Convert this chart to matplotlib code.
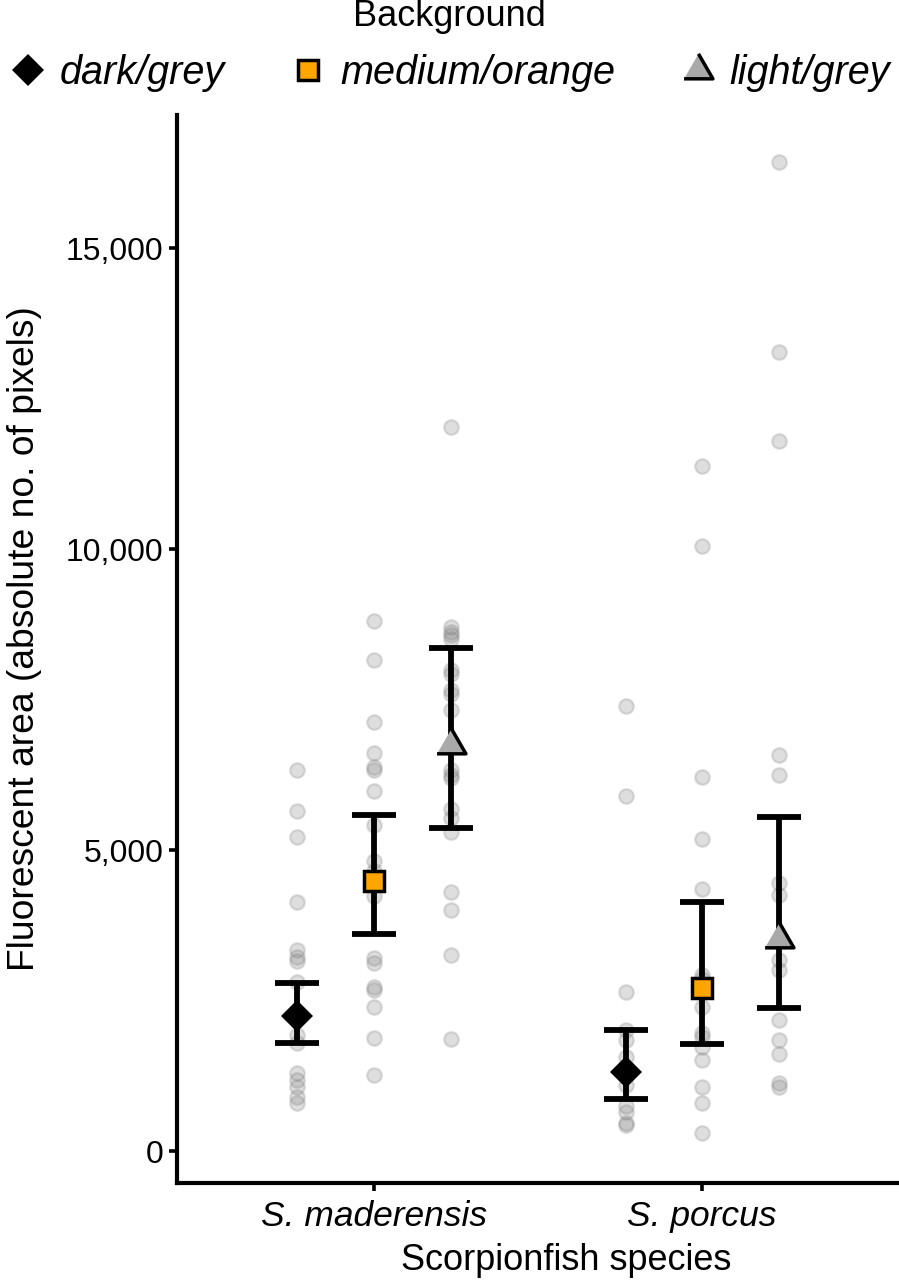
"""Fluorescent area of scorpionfish on three backgrounds."""
import matplotlib
matplotlib.use('Agg')
import numpy as np
import matplotlib.pyplot as plt
from matplotlib.lines import Line2D
from matplotlib.ticker import FuncFormatter

plt.rcParams['font.family'] = ['Liberation Sans', 'DejaVu Sans']

species = ['S. maderensis', 'S. porcus']
backgrounds = ['dark/grey', 'medium/orange', 'light/grey']

# Individual fish (absolute no. of pixels)
mad_dark = [6330, 5650, 5210, 4140, 3340, 3220, 3150, 2810, 1930, 1790,
            1290, 1180, 1070, 900, 790]
mad_medium = [8800, 8150, 7130, 6620, 6380, 6330, 5980, 5410, 4810, 4650,
              4230, 3200, 3120, 2730, 2670, 2400, 1870, 1260]
mad_light = [12030, 8700, 8630, 8570, 8510, 7990, 7930, 7660, 7600, 7330,
             6330, 6250, 6190, 5690, 5530, 5300, 4310, 4000, 3260, 1860]
por_dark = [7400, 5900, 2650, 2010, 1840, 1570, 1100, 740, 650, 460, 440]
por_medium = [11380, 10050, 6210, 5180, 4360, 2920, 2850, 2400, 1960, 1900,
              1730, 1510, 1070, 800, 300]
por_light = [16430, 13270, 11790, 6580, 6250, 4450, 4250, 3170, 3010, 2180,
             1840, 1620, 1130, 1070]

raw = [[mad_dark, mad_medium, mad_light],
       [por_dark, por_medium, por_light]]

# Group means with lower / upper error limits
means = [[2243, 4490, 6744], [1318, 2703, 3522]]
lower = [[1789, 3599, 5372], [864, 1772, 2383]]
upper = [[2799, 5581, 8350], [2010, 4131, 5543]]

# marker styles per background
tri = [(-1, -0.577), (1, -0.577), (0, 1.155)]
styles = [dict(marker='D', ms=16.5, mfc='black', mec='black', mew=0),
          dict(marker='s', ms=14.5, mfc='#FFA500', mec='black', mew=2.5),
          dict(marker=tri, ms=24, mfc='#A9A9A9', mec='black', mew=2.5)]
dodge = [-0.7 / 3, 0, 0.7 / 3]

fig = plt.figure(figsize=(8.99, 12.84), dpi=100)
ax = fig.add_axes([0.197, 0.0787, 0.803, 0.8317])

for i in range(len(species)):
    for j in range(len(backgrounds)):
        x = i + 1 + dodge[j]
        vals = raw[i][j]
        ax.scatter(np.full(len(vals), x), vals, s=110, facecolor='#7F7F7F',
                   edgecolor='#7F7F7F', linewidth=1.6, alpha=0.25, zorder=1)
        m = means[i][j]
        ax.errorbar(x, m, yerr=[[m - lower[i][j]], [upper[i][j] - m]],
                    fmt='none', ecolor='black', elinewidth=4.2, capsize=16,
                    capthick=4.2, zorder=2)
        ax.plot(x, m, linestyle='none', zorder=3, **styles[j])

# Axes formatting
ax.set_xlim(0.4, 2.6)
ax.set_ylim(-530, 17210)
ax.set_xticks([1, 2])
ax.set_xticklabels(species, fontstyle='italic', fontsize=25.5)
ax.set_yticks([0, 5000, 10000, 15000])
ax.yaxis.set_major_formatter(FuncFormatter(lambda v, p: f'{int(v):,}'))
ax.tick_params(axis='y', labelsize=23, pad=4)
ax.tick_params(axis='x', pad=6)
ax.tick_params(axis='both', direction='out', length=6, width=2.6)
for side in ['top', 'right']:
    ax.spines[side].set_visible(False)
for side in ['left', 'bottom']:
    ax.spines[side].set_linewidth(3)
ax.set_xlabel('Scorpionfish species', fontsize=26)
ax.xaxis.set_label_coords(0.539, -0.056)
ax.set_ylabel('Fluorescent area (absolute no. of pixels)', fontsize=26.8)
ax.yaxis.set_label_coords(-0.187, 0.51)

handles = [Line2D([], [], linestyle='none', **st) for st in styles]
fig.legend(handles, backgrounds, loc='upper center', bbox_to_anchor=(0.5, 1.004),
           ncol=3, frameon=False, title='Background', title_fontsize=26,
           prop={'style': 'italic', 'size': 28.5}, handlelength=1.0,
           handletextpad=0.3, columnspacing=1.6, borderaxespad=0.1,
           borderpad=0.0)

plt.savefig('out.png', dpi=100)
